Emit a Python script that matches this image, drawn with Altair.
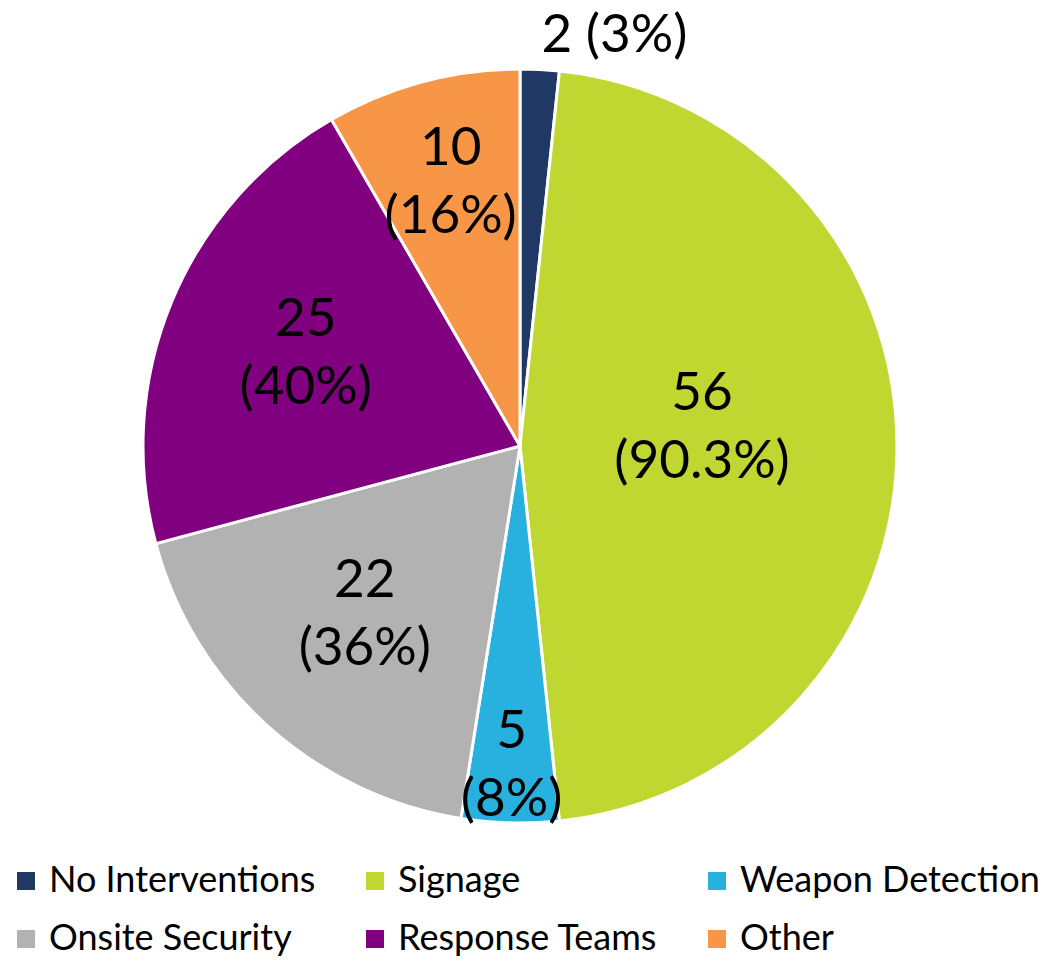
import altair as alt
import pandas as pd

categories = ["No Interventions", "Signage", "Weapon Detection",
              "Onsite Security", "Response Teams", "Other"]
counts = [2, 56, 5, 22, 25, 10]
pct_labels = ["3%", "90.3%", "8%", "36%", "40%", "16%"]
colors = ["#1F3864", "#BFD730", "#28B0DE", "#B2B2B2", "#800080", "#F79646"]

df = pd.DataFrame({
    "idx": list(range(len(categories))),
    "category": categories,
    "count": counts,
    "pct": pct_labels,
})

FONT = "Lato"
FS = 53
LH = 68

base = alt.Chart(df).encode(
    theta=alt.Theta("count:Q", stack=True),
    order=alt.Order("idx:Q"),
)

arc = base.mark_arc(radius=377, stroke="white", strokeWidth=3).encode(
    color=alt.Color(
        "category:N",
        scale=alt.Scale(domain=categories, range=colors),
        sort=categories,
        legend=alt.Legend(
            title=None, orient="none", legendX=8, legendY=863,
            columns=3, direction="horizontal",
            symbolType="square", symbolSize=324, symbolStrokeWidth=0,
            symbolOpacity=1,
            labelFont=FONT, labelFontSize=36, labelColor="black",
            labelOffset=5, columnPadding=41, rowPadding=22,
            labelLimit=400,
        ),
    )
)


def label_layer(cats, radius, two_lines=True, align="center", dy=0):
    cond = " || ".join(f"datum.category == '{c}'" for c in cats)
    if two_lines:
        expr = f"({cond}) ? datum.count + '\\n(' + datum.pct + ')' : ''"
        dy = dy - LH / 2
    else:
        expr = f"({cond}) ? datum.count + ' (' + datum.pct + ')' : ''"
    return base.transform_calculate(txt=expr).mark_text(
        radius=radius, align=align, baseline="middle", font=FONT, fontSize=FS,
        color="black", lineBreak="\n", lineHeight=LH, dy=dy
    ).encode(text="txt:N")


outer = label_layer(["No Interventions"], 411, two_lines=False, align="left")
sig = label_layer(["Signage"], 182, dy=-18)
weapon = label_layer(["Weapon Detection"], 320)
other = label_layer(["Other"], 268, dy=-4)
mid = label_layer(["Onsite Security", "Response Teams"], 232, dy=-3)

chart = alt.layer(arc, outer, sig, weapon, other, mid).properties(
    width=1040, height=892,
    autosize=alt.AutoSizeParams(type="none"),
    padding={"left": 0, "top": 0, "right": 6, "bottom": 68},
).configure_view(stroke=None)

chart.save("out.html", embed_options={"renderer": "svg", "actions": False})
